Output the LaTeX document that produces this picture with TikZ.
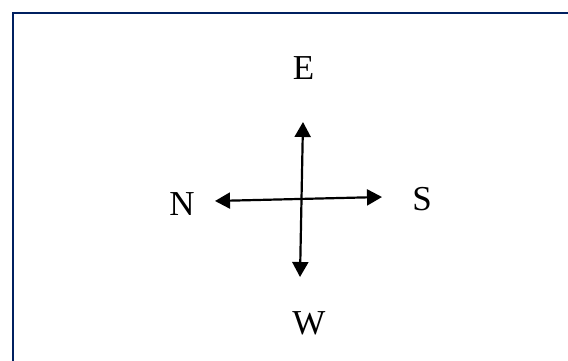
\documentclass[tikz,border=0pt]{standalone}
\usepackage{fontspec}
\setmainfont{Liberation Serif}
\usetikzlibrary{arrows.meta}
\definecolor{framenavy}{HTML}{002060}

\begin{document}
\begin{tikzpicture}[x=1pt,y=-1pt,thick,
  dirlabel/.style={font=\fontsize{35}{42}\selectfont,inner sep=0pt},
  dirarrow/.style={line width=2.2pt,{Triangle[length=15pt,width=16pt]}-{Triangle[length=15pt,width=16pt]}}]
\useasboundingbox (0,0) rectangle (568,361);

% Frame, only the top and left edges show.
\draw[line width=2.8pt,color=framenavy] (568,13) -- (13,13) -- (13,361);

% Arrow tips.
\coordinate (tipE) at (303,122);
\coordinate (tipW) at (300,277);
\coordinate (tipN) at (215,201);
\coordinate (tipS) at (382,197);

% Draw the cross.
\draw[dirarrow] (tipE) -- (tipW);
\draw[dirarrow] (tipN) -- (tipS);

% Labels.
\node[dirlabel] (labE) at (303.5,68.5) {E};
\node[dirlabel] (labN) at (182,204) {N};
\node[dirlabel] (labS) at (422,199.5) {S};
\node[dirlabel] (labW) at (309,323.5) {W};

\end{tikzpicture}
\end{document}
